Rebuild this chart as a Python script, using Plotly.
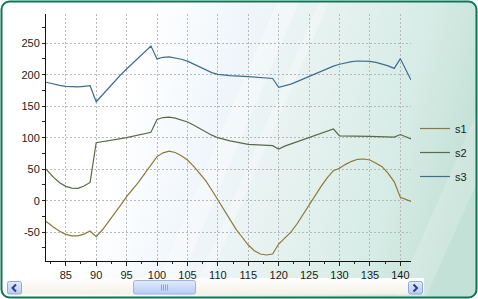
import base64
import plotly.graph_objects as go

# ---- data ----
s1_x = [81.75, 82, 83, 84, 85, 86, 87, 88, 89, 90, 91, 92, 93, 94, 95, 96, 97, 98, 99, 100,
        101, 102, 103, 104, 105, 106, 107, 108, 109, 110, 111, 112, 113, 114, 115, 116, 117,
        118, 119, 120, 121, 122, 123, 124, 125, 126, 127, 128, 129, 130, 131, 132, 133, 134,
        135, 136, 137, 138, 139, 140, 141.75]
s1_y = [-33, -34.5, -42, -48.5, -53.4, -55.7, -55.7, -53, -48, -57, -46.5, -34, -21, -7.4, 6.3,
        18, 30, 43.5, 56.7, 70, 76, 78.5, 76.5, 71.4, 64.6, 55, 43.5, 31.7, 17, 1, -15, -30.6,
        -45.5, -58, -70.3, -79.3, -84.6, -86.2, -84.7, -68.8, -60, -50, -37, -22, -6, 9,
        23, 36.5, 47.6, 51.4, 57.7, 62.5, 65.7, 66.2, 64.6, 59.3, 54, 43.5, 30, 5.3, -1]

s2_x = [81.75, 83, 84, 85, 86, 87, 88, 89, 90, 95, 99, 100, 101, 102, 103, 104, 105, 106, 107,
        108, 109, 110, 112, 115, 117, 119, 120, 121, 129, 130, 135, 139, 140, 141.75]
s2_y = [50, 37, 28.6, 22.8, 20, 19.7, 23.3, 29, 92, 100, 108.5, 129, 132, 132.5, 131, 128.5,
        125, 120, 114.5, 109, 104, 100, 95, 89.5, 88, 87.3, 82, 86.6, 113.8, 103, 102, 101,
        105, 98]

s3_x = [81.75, 83, 84, 85, 86, 87, 88, 89, 90, 91, 92, 93, 94, 95, 96, 97, 98, 99, 100, 101,
        102, 103, 104, 105, 106, 107, 108, 109, 110, 112, 115, 117, 119, 120, 121, 122, 123,
        124, 125, 126, 127, 128, 129, 130, 131, 132, 133, 134, 135, 136, 137, 138, 139, 140,
        141.75]
s3_y = [188, 185, 183, 181.5, 180.5, 180.5, 181.5, 182.5, 157, 168, 178.5, 189, 199.5, 209,
        218, 227, 236, 245.6, 225, 227.6, 228.3, 227, 224.5, 221.5, 217, 212, 207, 203.3,
        200.6, 198.5, 196.8, 195.5, 194, 180, 182, 185, 189, 193, 197, 201.5, 206, 210, 213.5,
        216.5, 219, 220.7, 221.7, 221.8, 221, 219.5, 217, 214, 210, 225.4, 191.6]

series = [("s1", s1_x, s1_y, "#8a7a3a"),
          ("s2", s2_x, s2_y, "#5a6a48"),
          ("s3", s3_x, s3_y, "#3f6f8c")]

y_tickvals = [-50, 0, 50, 100, 150, 200, 250]
y_ticktext = ["-50", "0", "50", "100", "150", "200", "250"]
x_tickvals = [85, 90, 95, 100, 105, 110, 115, 120, 125, 130, 135, 140]
x_ticktext = ["85", "90", "95", "100", "105", "110", "115", "120", "125", "130", "135", "140"]

W, H = 478, 299
ML, MR, MT, MB = 46, 67, 14, 38

# ---- decorative background (border, gradient, scrollbar) ----
svg = f'''<svg xmlns="http://www.w3.org/2000/svg" width="{W}" height="{H}" viewBox="0 0 {W} {H}">
<defs>
<linearGradient id="bg" x1="0" y1="0" x2="478" y2="120" gradientUnits="userSpaceOnUse">
<stop offset="0" stop-color="#ffffff"/>
<stop offset="0.3" stop-color="#ffffff"/>
<stop offset="0.48" stop-color="#f0f6fb"/>
<stop offset="0.66" stop-color="#e6f2ef"/>
<stop offset="0.85" stop-color="#d7ece6"/>
<stop offset="1" stop-color="#c4e1d7"/>
</linearGradient>
<linearGradient id="trk" x1="0" y1="0" x2="0" y2="1">
<stop offset="0" stop-color="#ffffff"/><stop offset="1" stop-color="#f4f1e8"/>
</linearGradient>
<linearGradient id="btn" x1="0" y1="0" x2="0" y2="1">
<stop offset="0" stop-color="#e2eafc"/><stop offset="1" stop-color="#b9cbf4"/>
</linearGradient>
</defs>
<rect x="1.5" y="1.5" width="475" height="296" rx="8" ry="8" fill="url(#bg)"/>
<polygon points="150,299 172,299 300,0 278,0" fill="#ffffff" fill-opacity="0.35"/>
<polygon points="190,299 200,299 330,0 320,0" fill="#ffffff" fill-opacity="0.3"/>
<polygon points="395,299 425,299 478,180 478,110" fill="#ffffff" fill-opacity="0.18"/>
<rect x="1.5" y="1.5" width="475" height="296" rx="8" ry="8" fill="none" stroke="#0e7656" stroke-width="2"/>
<rect x="7" y="278" width="417" height="16.5" fill="url(#trk)"/>
<rect x="7.5" y="281.5" width="14" height="12.5" rx="2" fill="url(#btn)" stroke="#8ea8e0"/>
<path d="M16,284.5 L12.5,288 L16,291.5" stroke="#2e3f80" stroke-width="2" fill="none"/>
<rect x="133.5" y="280.5" width="62" height="13.5" rx="2" fill="url(#btn)" stroke="#9cb3ea"/>
<path d="M161.5,284.5 V290.5 M163.5,284.5 V290.5 M165.5,284.5 V290.5 M167.5,284.5 V290.5" stroke="#8ea6e0" stroke-width="1"/>
<rect x="408.5" y="281.5" width="14" height="12.5" rx="2" fill="url(#btn)" stroke="#8ea8e0"/>
<path d="M413.5,284.5 L417,288 L413.5,291.5" stroke="#2e3f80" stroke-width="2" fill="none"/>
</svg>'''
svg_uri = "data:image/svg+xml;base64," + base64.b64encode(svg.encode()).decode()

pw = W - ML - MR
ph = H - MT - MB

fig = go.Figure()
for i, (name, xs, ys, col) in enumerate(series):
    fig.add_trace(go.Scatter(x=xs, y=ys, mode="lines", name=name, legendgroup=name,
                             line=dict(color=col, width=1.2)))

font = dict(family="Liberation Sans, Arial, sans-serif", size=11, color="#1a1a1a")
grid = dict(showgrid=True, gridcolor="#b8b8b8", gridwidth=1, griddash="2px,2px")

fig.update_layout(
    width=W, height=H,
    margin=dict(l=ML, r=MR, t=MT, b=MB, pad=0, autoexpand=False),
    paper_bgcolor="rgba(0,0,0,0)", plot_bgcolor="rgba(0,0,0,0)",
    font=font,
    showlegend=True,
    legend=dict(x=(415 - ML) / pw, y=1 - (114 - MT) / ph, xanchor="left", yanchor="top",
                bgcolor="rgba(0,0,0,0)", borderwidth=0, font=font,
                traceorder="grouped", tracegroupgap=5),
    images=[dict(source=svg_uri, xref="paper", yref="paper",
                 x=-ML / pw, y=1 + MT / ph, sizex=W / pw, sizey=H / ph,
                 xanchor="left", yanchor="top", sizing="stretch", layer="below")],
    xaxis=dict(range=[81.75, 141.75], tickmode="array", tickvals=x_tickvals, ticktext=x_ticktext,
               ticks="outside", ticklen=4, tickcolor="#222", showline=True, linecolor="#111",
               linewidth=1, zeroline=False, tickfont=font,
               minor=dict(dtick=2.5, tick0=0, ticks="outside", ticklen=2, tickcolor="#222",
                          showgrid=False),
               **grid),
    yaxis=dict(range=[-95.7, 296.3], tickmode="array", tickvals=y_tickvals, ticktext=y_ticktext,
               ticks="outside", ticklen=3, tickcolor="#222", showline=True, linecolor="#111",
               linewidth=1, zeroline=False, tickfont=font,
               minor=dict(dtick=25, tick0=0, ticks="outside", ticklen=3, tickcolor="#222",
                          showgrid=False),
               **grid),
)

fig.write_html("out.html")
